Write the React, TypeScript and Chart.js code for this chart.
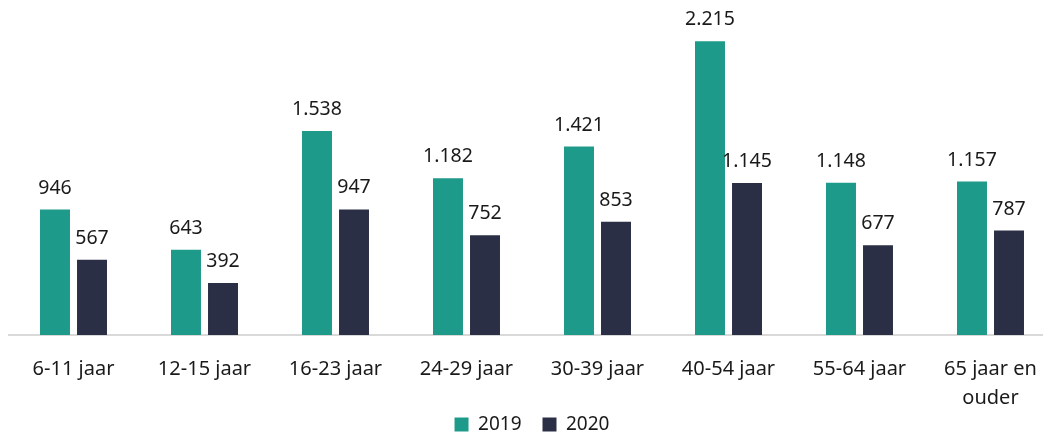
import React, { useEffect, useRef } from "react";
import { Chart, registerables } from "chart.js";

Chart.register(...registerables);

const categories: (string | string[])[] = [
  "6-11 jaar",
  "12-15 jaar",
  "16-23 jaar",
  "24-29 jaar",
  "30-39 jaar",
  "40-54 jaar",
  "55-64 jaar",
  ["65 jaar en", "ouder"],
];
const values2019 = [946, 643, 1538, 1182, 1421, 2215, 1148, 1157];
const values2020 = [567, 392, 947, 752, 853, 1145, 677, 787];
const seriesNames = ["2019", "2020"];

const FONT = "'Noto Sans', sans-serif";

function fmt(v: number): string {
  const s = String(Math.round(v));
  return s.replace(/\B(?=(\d{3})+(?!\d))/g, ".");
}

const labelPlugin = {
  id: "barLabels",
  afterDatasetsDraw(chart: any) {
    const ctx = chart.ctx;
    ctx.save();
    ctx.font = `19.5px ${FONT}`;
    ctx.fillStyle = "#1a1a1a";
    ctx.textAlign = "center";
    ctx.textBaseline = "alphabetic";
    chart.data.datasets.forEach((ds: any, i: number) => {
      const meta = chart.getDatasetMeta(i);
      meta.data.forEach((bar: any, j: number) => {
        ctx.fillText(fmt(ds.data[j]), bar.x, bar.y - 16);
      });
    });
    ctx.restore();
  },
};

export default function App() {
  const ref = useRef<HTMLCanvasElement>(null);
  useEffect(() => {
    if (!ref.current) return;
    const chart = new Chart(ref.current, {
      type: "bar",
      data: {
        labels: categories,
        datasets: [
          {
            label: seriesNames[0],
            data: values2019,
            backgroundColor: "#1e9a8a",
            borderWidth: 0,
          },
          {
            label: seriesNames[1],
            data: values2020,
            backgroundColor: "#2b2f45",
            borderWidth: 0,
          },
        ],
      },
      options: {
        responsive: false,
        animation: false,
        devicePixelRatio: 1,
        categoryPercentage: 0.565,
        barPercentage: 0.81,
        layout: { padding: { top: 2, left: 0, right: 0, bottom: 0 } },
        plugins: {
          legend: {
            position: "bottom",
            labels: {
              font: { family: FONT, size: 19 },
              color: "#1a1a1a",
              boxWidth: 14,
              boxHeight: 14,
              padding: 21,
            },
          },
          tooltip: { enabled: false },
        },
        scales: {
          x: {
            grid: { display: false, drawTicks: false },
            border: { display: true, color: "#d9d9d9", width: 2 },
            ticks: {
              font: { family: FONT, size: 20, lineHeight: 1.45 },
              color: "#1a1a1a",
              padding: 20,
              maxRotation: 0,
              autoSkip: false,
            },
            afterFit(scale: any) {
              scale.height = 59;
              scale.paddingLeft = 0;
              scale.paddingRight = 0;
              scale._computeLabelArea = () => undefined;
            },
          },
          y: {
            display: false,
            min: 0,
            max: 2450,
          },
        },
      },
      plugins: [labelPlugin],
    });
    return () => chart.destroy();
  }, []);
  return (
    <div
      style={{
        position: "absolute",
        top: 8,
        left: 8,
        width: 1035,
        height: 427,
        overflow: "hidden",
      }}
    >
      <canvas ref={ref} width={1048} height={436} style={{ display: "block" }} />
    </div>
  );
}
